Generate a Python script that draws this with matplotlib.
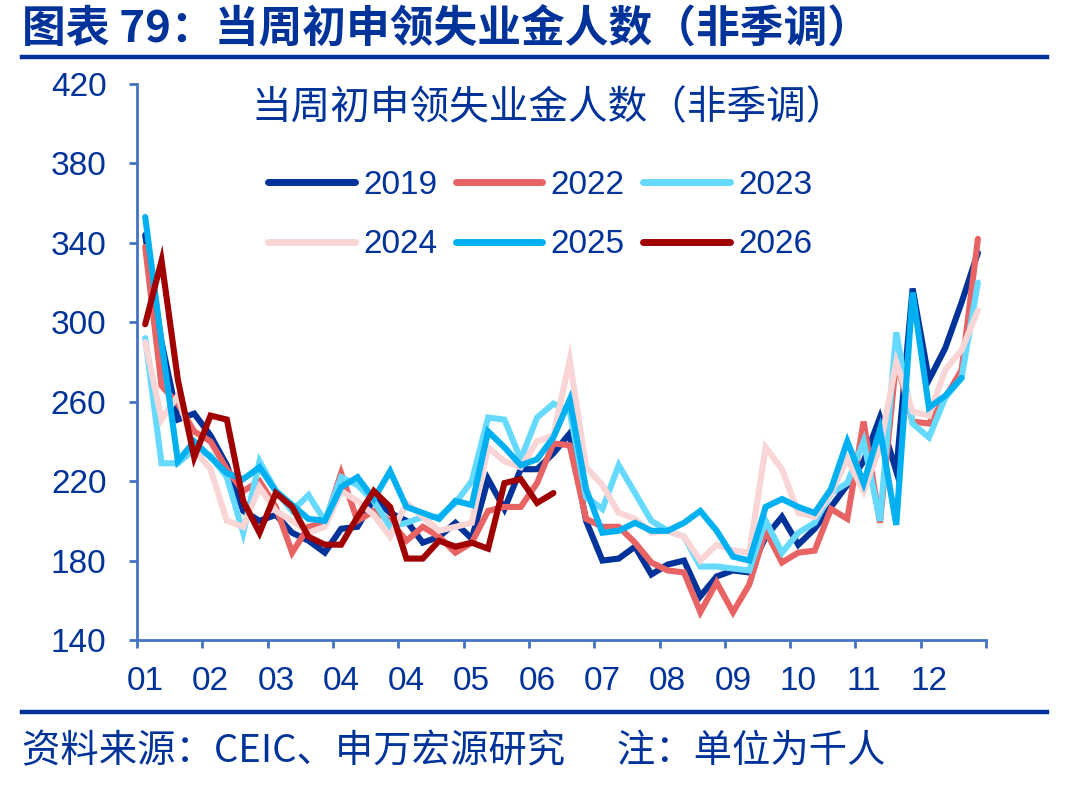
import matplotlib
matplotlib.use('Agg')
import matplotlib.pyplot as plt
import numpy as np

# weekly initial jobless claims, not seasonally adjusted (thousands)
month_labels = ['01', '02', '03', '04', '04', '05', '06', '07', '08', '09', '10', '11', '12']

y2019 = [344, 290, 251, 254, 243, 228, 205, 200, 203, 194, 190, 184, 196, 197, 211, 204,
         200, 189, 192, 199, 191, 221, 206, 226, 226, 234, 244, 200, 180, 181, 187, 173,
         178, 180, 162, 172, 175, 174, 192, 202, 188, 196, 207, 218, 230, 252, 225, 317,
         271, 287, 310, 335]
y2022 = [338, 268, 259, 245, 240, 226, 215, 220, 207, 184, 197, 199, 224, 200, 205, 200,
         190, 197, 192, 184, 189, 205, 207, 207, 219, 239, 238, 201, 197, 197, 189, 179,
         175, 174, 154, 169, 154, 168, 195, 179, 184, 185, 206, 201, 250, 199, 281, 250,
         249, 262, 276, 342]
y2023 = [292, 229, 229, 236, 233, 222, 194, 230, 215, 205, 213, 200, 222, 218, 210, 197,
         199, 202, 202, 209, 220, 252, 251, 231, 252, 259, 255, 212, 206, 228, 214, 200,
         195, 192, 177, 177, 176, 175, 200, 184, 194, 199, 214, 219, 240, 200, 295, 249,
         242, 262, 272, 320]
y2024 = [290, 251, 263, 236, 226, 200, 197, 217, 205, 200, 194, 197, 215, 210, 203, 192,
         209, 202, 195, 197, 199, 237, 230, 227, 240, 243, 281, 227, 218, 204, 201, 194,
         195, 192, 180, 188, 185, 184, 237, 226, 204, 202, 214, 231, 215, 237, 280, 255,
         253, 276, 286, 306]
y2025 = [353, 290, 230, 240, 232, 224, 221, 227, 215, 208, 201, 200, 217, 222, 211, 225,
         207, 204, 201, 210, 208, 245, 237, 228, 231, 242, 261, 216, 194, 195, 199, 195,
         195, 199, 205, 195, 182, 180, 207, 211, 207, 204, 216, 240, 219, 246, 198, 315,
         257, 263, 272]
y2026 = [299, 331, 271, 232, 253, 251, 210, 194, 214, 207, 192, 188, 188, 202, 215, 207,
         181, 181, 190, 187, 189, 186, 219, 221, 209, 214]

series = [
    ('2019', y2019, '#003399'),
    ('2022', y2022, '#E86464'),
    ('2023', y2023, '#66D9FF'),
    ('2024', y2024, '#F9D5D5'),
    ('2025', y2025, '#00B0F0'),
    ('2026', y2026, '#A00000'),
]

navy = '#003399'
axis_blue = '#4472C4'
plt.rcParams['font.family'] = ['Liberation Sans', 'Noto Sans CJK SC', 'DejaVu Sans']

fig = plt.figure(figsize=(10.92, 7.87), dpi=100)
ax = fig.add_axes([0.1255, 0.1868, 0.7775, 0.7065])

lines = []
for name, vals, col in series:
    ln, = ax.plot(np.arange(len(vals)), vals, color=col, lw=4.4, label=name,
                  solid_joinstyle='miter', solid_capstyle='round')
    lines.append(ln)

ax.set_xlim(-0.5, 51.5)
ax.set_ylim(140, 420)
ax.set_yticks(np.arange(140, 421, 40))
ax.set_xticks(np.arange(0, 52, 4))
ax.set_xticklabels(month_labels)
ax.set_xticks(np.arange(-0.5, 52, 4), minor=True)
ax.tick_params(axis='x', which='major', length=0, pad=19, labelsize=24, labelcolor=navy)
ax.tick_params(axis='x', which='minor', length=5.5, width=2, color=axis_blue)
ax.tick_params(axis='y', length=5.5, width=2, color=axis_blue, labelsize=24,
               labelcolor=navy, pad=16.5)

for s in ['top', 'right']:
    ax.spines[s].set_visible(False)
for s in ['left', 'bottom']:
    ax.spines[s].set_color(axis_blue)
    ax.spines[s].set_linewidth(2)

# legend is filled row by row: 2019 2022 2023 / 2024 2025 2026
order = [0, 3, 1, 4, 2, 5]
leg = ax.legend([lines[i] for i in order], [series[i][0] for i in order],
                ncol=3, loc='upper center', bbox_to_anchor=(0.475, 0.845),
                frameon=False, fontsize=24, handlelength=2.6, handletextpad=0.25,
                columnspacing=0.55, labelspacing=0.85, borderpad=0, borderaxespad=0)
for t in leg.get_texts():
    t.set_color(navy)
for h in leg.get_lines():
    h.set_linewidth(5)
    h.set_solid_capstyle('round')

fig.text(0.502, 0.863, '当周初申领失业金人数（非季调）', fontsize=28.5, color=navy,
         ha='center', va='center', family=['Noto Sans CJK SC'])

fig.text(0.02, 0.962, '图表 79：当周初申领失业金人数（非季调）', fontsize=31.5,
         fontweight='bold', color=navy, ha='left', va='center',
         family=['Noto Sans CJK SC'])
fig.add_artist(plt.Line2D([0.02, 0.959], [0.927, 0.927], color=navy, lw=3.2,
                          transform=fig.transFigure))
fig.add_artist(plt.Line2D([0.02, 0.959], [0.095, 0.095], color=navy, lw=3.2,
                          transform=fig.transFigure))
fig.text(0.02, 0.045, '资料来源：CEIC、申万宏源研究      注：单位为千人', fontsize=27.6,
         color=navy, ha='left', va='center', family=['Noto Sans CJK SC'])

fig.savefig('out.png', dpi=100)
